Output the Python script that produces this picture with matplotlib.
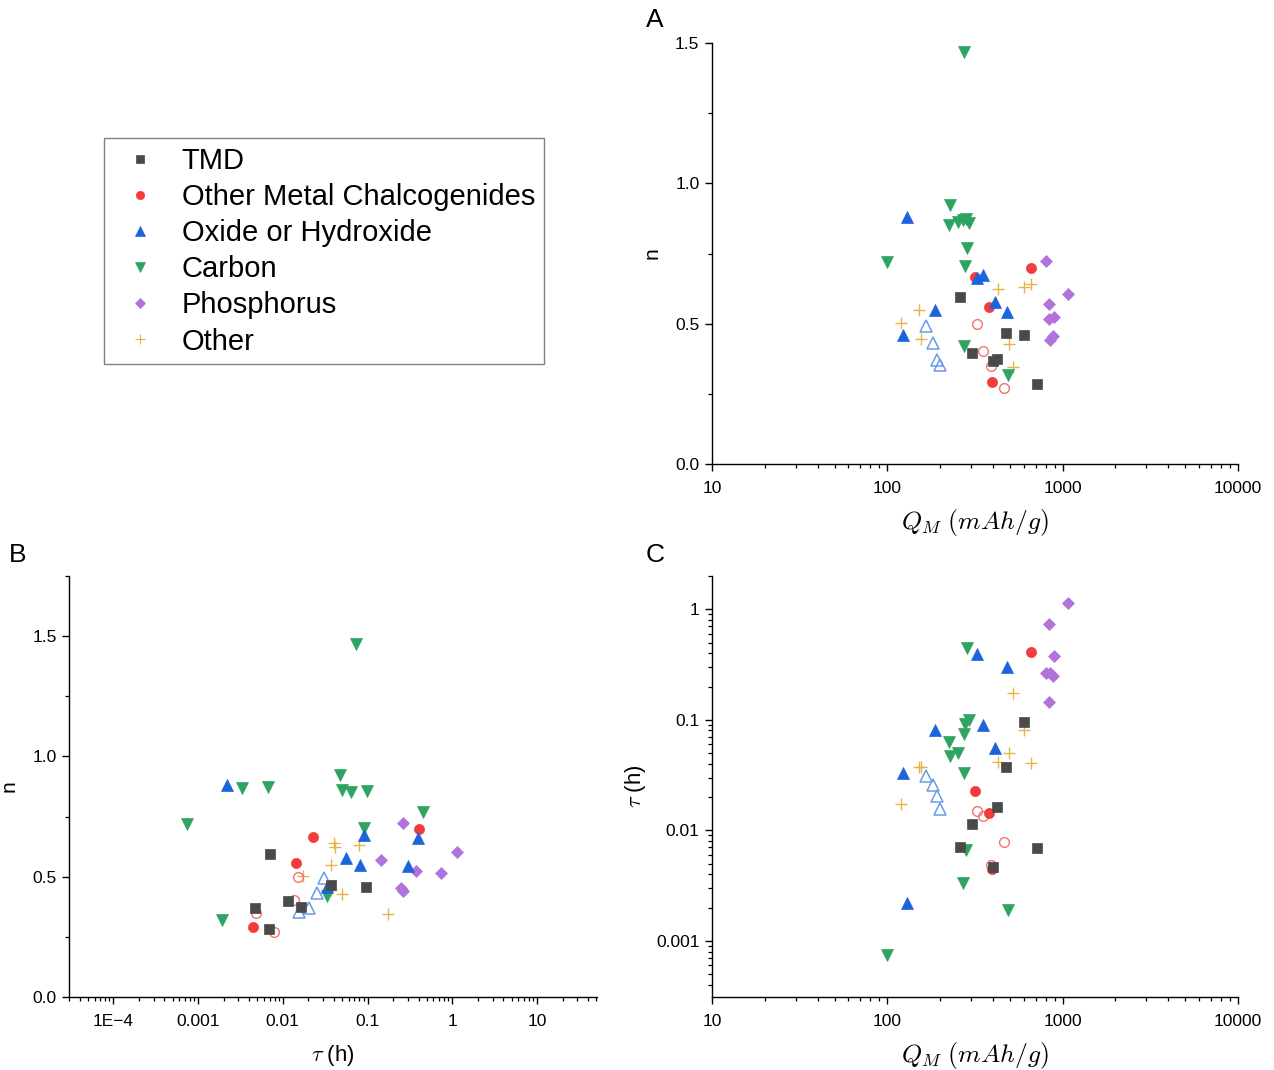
import matplotlib
matplotlib.use('Agg')
import matplotlib.pyplot as plt
from matplotlib.lines import Line2D
from matplotlib.ticker import FixedLocator, LogLocator, NullFormatter, MultipleLocator

plt.rcParams['font.family'] = ['Liberation Sans', 'DejaVu Sans']
plt.rcParams['mathtext.fontset'] = 'cm'

# ---------------- data (QM in mAh/g, n, tau in h) ----------------
tmd_Q = [260, 475, 602, 306, 420, 401, 714]
tmd_n = [0.594, 0.466, 0.458, 0.397, 0.374, 0.368, 0.284]
tmd_tau = [0.0071, 0.0375, 0.0964, 0.0115, 0.0162, 0.00465, 0.0069]

chalc_Q = [316, 661, 380, 395]
chalc_n = [0.667, 0.698, 0.558, 0.291]
chalc_tau = [0.0226, 0.41, 0.0143, 0.00449]

chalc_open_Q = [325, 352, 388, 463]
chalc_open_n = [0.498, 0.402, 0.350, 0.272]
chalc_open_tau = [0.0151, 0.0134, 0.00487, 0.0079]

oxide_Q = [129, 323, 350, 411, 186, 482, 123]
oxide_n = [0.880, 0.662, 0.673, 0.577, 0.548, 0.543, 0.458]
oxide_tau = [0.00221, 0.392, 0.0897, 0.056, 0.0806, 0.302, 0.0329]

oxide_open_Q = [167, 181, 192, 201]
oxide_open_n = [0.493, 0.431, 0.372, 0.352]
oxide_open_tau = [0.031, 0.0255, 0.0203, 0.0155]

carbon_Q = [275, 228, 253, 225, 293, 271, 281, 100, 285, 277, 274, 489]
carbon_n = [1.468, 0.922, 0.861, 0.852, 0.857, 0.869, 0.873, 0.719, 0.769, 0.704, 0.421, 0.318]
carbon_tau = [0.0736, 0.0475, 0.0498, 0.063, 0.0988, 0.0033, 0.0066, 0.00074, 0.448, 0.0918, 0.0333, 0.0019]

phos_Q = [800, 1075, 836, 888, 831, 885, 848]
phos_n = [0.722, 0.604, 0.570, 0.522, 0.516, 0.455, 0.441]
phos_tau = [0.263, 1.15, 0.144, 0.374, 0.735, 0.25, 0.265]

other_Q = [521, 602, 494, 425, 656, 152, 156, 120]
other_n = [0.345, 0.632, 0.427, 0.623, 0.640, 0.550, 0.445, 0.502]
other_tau = [0.176, 0.080, 0.0503, 0.0418, 0.0403, 0.0375, 0.037, 0.0174]

categories = ['TMD', 'Other Metal Chalcogenides', 'Oxide or Hydroxide',
              'Carbon', 'Phosphorus', 'Other']

# ---------------- styles ----------------
C_TMD = '#4a4a4a'
C_RED = '#f23c3c'
C_BLUE = '#1c64dc'
C_GREEN = '#2ea463'
C_PURP = '#b272dc'
C_GOLD = '#e6b34a'
C_BLUE_OPEN = '#6a9ae8'
C_RED_OPEN = '#f47272'

series = [
    # (Q, n, tau, marker, size, face, edge, mew)
    (other_Q, other_n, other_tau, '+', 8.0, C_GOLD, C_GOLD, 1.0),
    (phos_Q, phos_n, phos_tau, 'D', 6.4, C_PURP, C_PURP, 0.5),
    (carbon_Q, carbon_n, carbon_tau, 'v', 8.8, C_GREEN, C_GREEN, 0.5),
    (chalc_open_Q, chalc_open_n, chalc_open_tau, 'o', 7.0, 'none', C_RED_OPEN, 1.0),
    (oxide_open_Q, oxide_open_n, oxide_open_tau, '^', 8.4, 'none', C_BLUE_OPEN, 1.1),
    (chalc_Q, chalc_n, chalc_tau, 'o', 7.3, C_RED, C_RED, 0.5),
    (oxide_Q, oxide_n, oxide_tau, '^', 8.8, C_BLUE, C_BLUE, 0.5),
    (tmd_Q, tmd_n, tmd_tau, 's', 6.9, C_TMD, C_TMD, 0.5),
]

fig = plt.figure(figsize=(12.74, 10.70), dpi=100)

axA = fig.add_axes([712/1274, 1-464/1070, (1238-712)/1274, (464-43)/1070])
axB = fig.add_axes([69/1274, 1-997/1070, (597-69)/1274, (997-576)/1070])
axC = fig.add_axes([712/1274, 1-997/1070, (1238-712)/1274, (997-576)/1070])

for Q, n, tau, mk, ms, fc, ec, mew in series:
    axA.plot(Q, n, linestyle='none', marker=mk, markersize=ms,
             markerfacecolor=fc, markeredgecolor=ec, markeredgewidth=mew)
    axB.plot(tau, n, linestyle='none', marker=mk, markersize=ms,
             markerfacecolor=fc, markeredgecolor=ec, markeredgewidth=mew)
    axC.plot(Q, tau, linestyle='none', marker=mk, markersize=ms,
             markerfacecolor=fc, markeredgecolor=ec, markeredgewidth=mew)

TICK_FS = 12.5
for ax in (axA, axB, axC):
    for s in ('top', 'right'):
        ax.spines[s].set_visible(False)
    for s in ('left', 'bottom'):
        ax.spines[s].set_linewidth(1.0)
    ax.tick_params(which='major', direction='out', length=5, width=1.0,
                   labelsize=TICK_FS)
    ax.tick_params(which='minor', direction='out', length=3, width=0.9)
    ax.tick_params(axis='x', which='major', pad=7)
    ax.tick_params(axis='y', which='major', pad=4)

qticks = [10, 100, 1000, 10000]
qlabels = ['10', '100', '1000', '10000']
nticks = [0.0, 0.5, 1.0, 1.5]
nlabels = ['0.0', '0.5', '1.0', '1.5']

# Panel A
axA.set_xscale('log')
axA.set_xlim(10, 10000)
axA.set_ylim(0, 1.5)
axA.xaxis.set_major_locator(FixedLocator(qticks))
axA.set_xticklabels(qlabels)
axA.xaxis.set_minor_locator(LogLocator(base=10, subs=range(2, 10)))
axA.xaxis.set_minor_formatter(NullFormatter())
axA.yaxis.set_major_locator(FixedLocator(nticks))
axA.set_yticklabels(nlabels)
axA.yaxis.set_minor_locator(MultipleLocator(0.25))
axA.set_xlabel(r'$Q_M\ (mAh/g)$', fontsize=18.5, labelpad=8)
axA.set_ylabel('n', fontsize=15, labelpad=10)

# Panel B
tticks = [1e-4, 1e-3, 1e-2, 1e-1, 1, 10]
tlabels = ['1E\u22124', '0.001', '0.01', '0.1', '1', '10']
axB.set_xscale('log')
axB.set_xlim(3.0e-5, 51)
axB.set_ylim(0, 1.75)
axB.xaxis.set_major_locator(FixedLocator(tticks))
axB.set_xticklabels(tlabels)
axB.xaxis.set_minor_locator(LogLocator(base=10, subs=range(2, 10), numticks=20))
axB.xaxis.set_minor_formatter(NullFormatter())
axB.yaxis.set_major_locator(FixedLocator(nticks))
axB.set_yticklabels(nlabels)
axB.yaxis.set_minor_locator(MultipleLocator(0.25))
axB.set_xlabel(r'$\tau$ (h)', fontsize=16, labelpad=10)
axB.set_ylabel('n', fontsize=15, labelpad=10)

# Panel C
cticks = [0.001, 0.01, 0.1, 1]
clabels = ['0.001', '0.01', '0.1', '1']
axC.set_xscale('log')
axC.set_yscale('log')
axC.set_xlim(10, 10000)
axC.set_ylim(3.1e-4, 2.0)
axC.xaxis.set_major_locator(FixedLocator(qticks))
axC.set_xticklabels(qlabels)
axC.xaxis.set_minor_locator(LogLocator(base=10, subs=range(2, 10)))
axC.xaxis.set_minor_formatter(NullFormatter())
axC.yaxis.set_major_locator(FixedLocator(cticks))
axC.set_yticklabels(clabels)
axC.yaxis.set_minor_locator(LogLocator(base=10, subs=range(2, 10), numticks=20))
axC.yaxis.set_minor_formatter(NullFormatter())
axC.set_xlabel(r'$Q_M\ (mAh/g)$', fontsize=18.5, labelpad=8)
axC.set_ylabel(r'$\tau$ (h)', fontsize=16, labelpad=6)

# Panel letters
fig.text(646/1274, 1-20/1070, 'A', fontsize=19, ha='left', va='center')
fig.text(9/1274, 1-555/1070, 'B', fontsize=19, ha='left', va='center')
fig.text(646/1274, 1-555/1070, 'C', fontsize=19, ha='left', va='center')

# Legend
leg_styles = [('s', 5.5, C_TMD), ('o', 6.0, C_RED), ('^', 7.0, C_BLUE),
              ('v', 7.0, C_GREEN), ('D', 5.2, C_PURP), ('+', 7.0, C_GOLD)]
handles = []
for (mk, ms, col), lab in zip(leg_styles, categories):
    handles.append(Line2D([], [], linestyle='none', marker=mk, markersize=ms,
                          markerfacecolor=col, markeredgecolor=col,
                          markeredgewidth=0.8 if mk == '+' else 0.5, label=lab))
leg = fig.legend(handles=handles, loc='upper left',
                 bbox_to_anchor=(104/1274, 1-138/1070),
                 fontsize=21, frameon=True, fancybox=False, framealpha=1,
                 edgecolor='#808080', borderpad=0.3, handlelength=1.87,
                 handletextpad=0.5, labelspacing=0.28, borderaxespad=0)
leg.get_frame().set_linewidth(1.0)

fig.savefig('out.png', dpi=100)
